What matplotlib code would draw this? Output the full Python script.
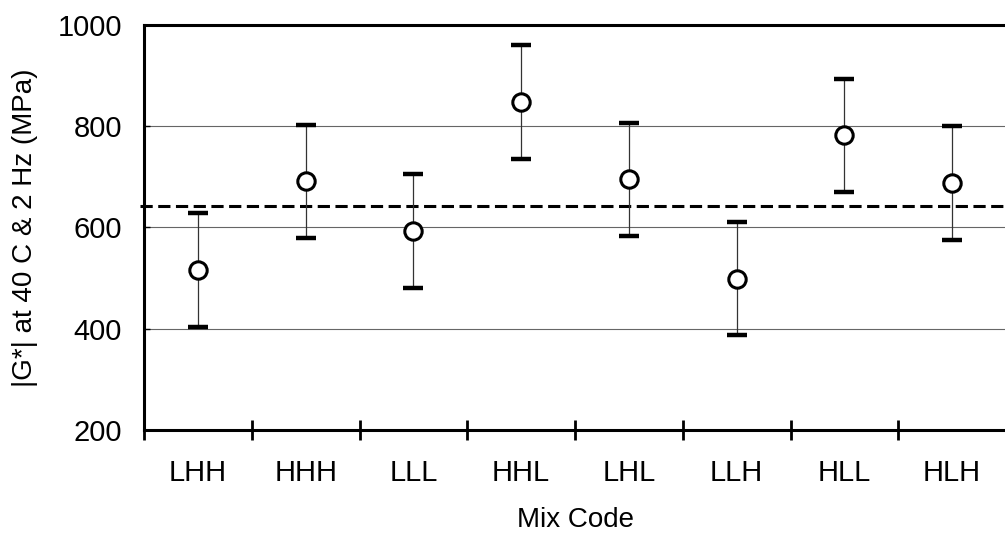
import numpy as np
import matplotlib.pyplot as plt

plt.rcParams['font.family'] = ['Liberation Sans', 'DejaVu Sans']

# mix codes and |G*| results (MPa)
mixes = ['LHH', 'HHH', 'LLL', 'HHL', 'LHL', 'LLH', 'HLL', 'HLH']
g_mean = [516, 691, 593, 848, 695, 499, 782, 688]
g_err = [112, 112, 112, 112, 112, 112, 112, 112]
overall_avg = 642

x = np.arange(1, len(mixes) + 1)

fig = plt.figure(figsize=(10.05, 5.36), dpi=100)
ax = fig.add_axes([0.1433, 0.1978, 0.8577, 0.7556])

for yv in [400, 600, 800]:
    ax.axhline(yv, color='0.4', lw=0.8, zorder=1)

ax.axhline(overall_avg, xmin=-0.005, color='black', lw=2.2,
           dashes=(4, 1.8), clip_on=False, zorder=2)

# error bars with heavy caps, open circles on top
eb = ax.errorbar(x, g_mean, yerr=g_err, fmt='none', ecolor='0.2',
                 elinewidth=0.9, capsize=7.2, capthick=3.2, zorder=3)
for cap in eb.lines[1]:
    cap.set_markeredgecolor('black')
ax.plot(x, g_mean, 'o', markerfacecolor='white', markeredgecolor='black',
        markersize=12.5, markeredgewidth=2.2, zorder=4)

ax.set_xlim(0.5, len(mixes) + 0.5)
ax.set_ylim(200, 1000)
ax.set_yticks([200, 400, 600, 800, 1000])

# boundary ticks between mixes, labels centred under each mix
ax.set_xticks(np.arange(0.5, len(mixes) + 1, 1.0))
ax.set_xticklabels([])
ax.set_xticks(x, minor=True)
ax.set_xticklabels(mixes, minor=True)
ax.tick_params(axis='x', which='major', direction='inout', length=14.4,
               width=2)
ax.tick_params(axis='x', which='minor', length=0, pad=21, labelsize=21)
ax.tick_params(axis='y', direction='in', length=4, width=1, pad=16,
               labelsize=21)

for side in ['left', 'bottom', 'top']:
    ax.spines[side].set_linewidth(2.2)
ax.spines['right'].set_visible(False)

ax.set_ylabel('|G*| at 40 C & 2 Hz (MPa)', fontsize=20, labelpad=14)
ax.set_xlabel('Mix Code', fontsize=20, labelpad=14)

fig.savefig('out.png', dpi=100)
